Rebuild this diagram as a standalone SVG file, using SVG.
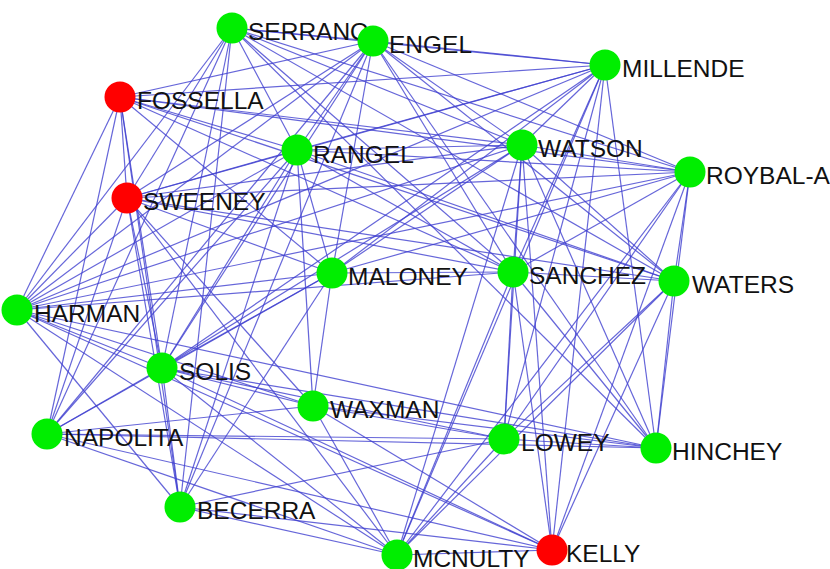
<svg xmlns="http://www.w3.org/2000/svg" width="830" height="569" viewBox="0 0 830 569">
<style>
.e line{stroke:#4040d0;stroke-opacity:0.8;stroke-width:1.2;fill:none}
.g{fill:#00ee00}
.r{fill:#ff0000}
text{font-family:"Liberation Sans",Arial,sans-serif;font-size:24.5px;fill:#111}
</style>
<rect width="830" height="569" fill="#fff"/>
<g id="edges" class="e">
<line x1="232" y1="28" x2="373" y2="41"/>
<line x1="232" y1="28" x2="605" y2="65"/>
<line x1="232" y1="28" x2="17" y2="310"/>
<line x1="232" y1="28" x2="127" y2="198"/>
<line x1="232" y1="28" x2="47" y2="434"/>
<line x1="232" y1="28" x2="162" y2="368"/>
<line x1="232" y1="28" x2="180" y2="507"/>
<line x1="232" y1="28" x2="297" y2="150"/>
<line x1="232" y1="28" x2="522" y2="145"/>
<line x1="232" y1="28" x2="513" y2="272"/>
<line x1="232" y1="28" x2="690" y2="172"/>
<line x1="232" y1="28" x2="674" y2="281"/>
<line x1="232" y1="28" x2="656" y2="448"/>
<line x1="373" y1="41" x2="605" y2="65"/>
<line x1="373" y1="41" x2="120" y2="97"/>
<line x1="373" y1="41" x2="297" y2="150"/>
<line x1="373" y1="41" x2="522" y2="145"/>
<line x1="373" y1="41" x2="690" y2="172"/>
<line x1="373" y1="41" x2="127" y2="198"/>
<line x1="373" y1="41" x2="17" y2="310"/>
<line x1="373" y1="41" x2="162" y2="368"/>
<line x1="373" y1="41" x2="47" y2="434"/>
<line x1="373" y1="41" x2="180" y2="507"/>
<line x1="373" y1="41" x2="332" y2="273"/>
<line x1="373" y1="41" x2="513" y2="272"/>
<line x1="373" y1="41" x2="674" y2="281"/>
<line x1="373" y1="41" x2="656" y2="448"/>
<line x1="605" y1="65" x2="120" y2="97"/>
<line x1="605" y1="65" x2="297" y2="150"/>
<line x1="605" y1="65" x2="127" y2="198"/>
<line x1="605" y1="65" x2="17" y2="310"/>
<line x1="605" y1="65" x2="162" y2="368"/>
<line x1="605" y1="65" x2="522" y2="145"/>
<line x1="605" y1="65" x2="513" y2="272"/>
<line x1="605" y1="65" x2="504" y2="439"/>
<line x1="605" y1="65" x2="552" y2="550"/>
<line x1="605" y1="65" x2="656" y2="448"/>
<line x1="605" y1="65" x2="397" y2="555"/>
<line x1="605" y1="65" x2="332" y2="273"/>
<line x1="297" y1="150" x2="120" y2="97"/>
<line x1="297" y1="150" x2="127" y2="198"/>
<line x1="297" y1="150" x2="17" y2="310"/>
<line x1="297" y1="150" x2="162" y2="368"/>
<line x1="297" y1="150" x2="47" y2="434"/>
<line x1="297" y1="150" x2="180" y2="507"/>
<line x1="297" y1="150" x2="522" y2="145"/>
<line x1="297" y1="150" x2="690" y2="172"/>
<line x1="297" y1="150" x2="513" y2="272"/>
<line x1="297" y1="150" x2="674" y2="281"/>
<line x1="297" y1="150" x2="332" y2="273"/>
<line x1="297" y1="150" x2="313" y2="406"/>
<line x1="522" y1="145" x2="120" y2="97"/>
<line x1="522" y1="145" x2="127" y2="198"/>
<line x1="522" y1="145" x2="17" y2="310"/>
<line x1="522" y1="145" x2="690" y2="172"/>
<line x1="522" y1="145" x2="513" y2="272"/>
<line x1="522" y1="145" x2="674" y2="281"/>
<line x1="522" y1="145" x2="504" y2="439"/>
<line x1="522" y1="145" x2="656" y2="448"/>
<line x1="522" y1="145" x2="552" y2="550"/>
<line x1="522" y1="145" x2="397" y2="555"/>
<line x1="522" y1="145" x2="332" y2="273"/>
<line x1="522" y1="145" x2="162" y2="368"/>
<line x1="690" y1="172" x2="120" y2="97"/>
<line x1="690" y1="172" x2="127" y2="198"/>
<line x1="690" y1="172" x2="513" y2="272"/>
<line x1="690" y1="172" x2="332" y2="273"/>
<line x1="690" y1="172" x2="674" y2="281"/>
<line x1="690" y1="172" x2="504" y2="439"/>
<line x1="690" y1="172" x2="656" y2="448"/>
<line x1="690" y1="172" x2="552" y2="550"/>
<line x1="690" y1="172" x2="397" y2="555"/>
<line x1="690" y1="172" x2="17" y2="310"/>
<line x1="127" y1="198" x2="120" y2="97"/>
<line x1="127" y1="198" x2="17" y2="310"/>
<line x1="127" y1="198" x2="47" y2="434"/>
<line x1="127" y1="198" x2="162" y2="368"/>
<line x1="127" y1="198" x2="180" y2="507"/>
<line x1="127" y1="198" x2="332" y2="273"/>
<line x1="127" y1="198" x2="513" y2="272"/>
<line x1="127" y1="198" x2="674" y2="281"/>
<line x1="127" y1="198" x2="313" y2="406"/>
<line x1="127" y1="198" x2="397" y2="555"/>
<line x1="120" y1="97" x2="17" y2="310"/>
<line x1="120" y1="97" x2="47" y2="434"/>
<line x1="120" y1="97" x2="162" y2="368"/>
<line x1="120" y1="97" x2="180" y2="507"/>
<line x1="120" y1="97" x2="513" y2="272"/>
<line x1="120" y1="97" x2="674" y2="281"/>
<line x1="120" y1="97" x2="332" y2="273"/>
<line x1="332" y1="273" x2="513" y2="272"/>
<line x1="332" y1="273" x2="313" y2="406"/>
<line x1="332" y1="273" x2="17" y2="310"/>
<line x1="332" y1="273" x2="47" y2="434"/>
<line x1="332" y1="273" x2="162" y2="368"/>
<line x1="332" y1="273" x2="180" y2="507"/>
<line x1="513" y1="272" x2="674" y2="281"/>
<line x1="513" y1="272" x2="504" y2="439"/>
<line x1="513" y1="272" x2="552" y2="550"/>
<line x1="513" y1="272" x2="397" y2="555"/>
<line x1="513" y1="272" x2="656" y2="448"/>
<line x1="513" y1="272" x2="17" y2="310"/>
<line x1="674" y1="281" x2="656" y2="448"/>
<line x1="674" y1="281" x2="504" y2="439"/>
<line x1="674" y1="281" x2="552" y2="550"/>
<line x1="674" y1="281" x2="397" y2="555"/>
<line x1="17" y1="310" x2="162" y2="368"/>
<line x1="17" y1="310" x2="313" y2="406"/>
<line x1="17" y1="310" x2="656" y2="448"/>
<line x1="17" y1="310" x2="180" y2="507"/>
<line x1="17" y1="310" x2="397" y2="555"/>
<line x1="17" y1="310" x2="552" y2="550"/>
<line x1="162" y1="368" x2="47" y2="434"/>
<line x1="162" y1="368" x2="180" y2="507"/>
<line x1="162" y1="368" x2="313" y2="406"/>
<line x1="162" y1="368" x2="504" y2="439"/>
<line x1="162" y1="368" x2="656" y2="448"/>
<line x1="162" y1="368" x2="552" y2="550"/>
<line x1="162" y1="368" x2="397" y2="555"/>
<line x1="313" y1="406" x2="47" y2="434"/>
<line x1="313" y1="406" x2="504" y2="439"/>
<line x1="313" y1="406" x2="656" y2="448"/>
<line x1="313" y1="406" x2="397" y2="555"/>
<line x1="313" y1="406" x2="552" y2="550"/>
<line x1="47" y1="434" x2="504" y2="439"/>
<line x1="47" y1="434" x2="656" y2="448"/>
<line x1="47" y1="434" x2="397" y2="555"/>
<line x1="47" y1="434" x2="552" y2="550"/>
<line x1="180" y1="507" x2="397" y2="555"/>
<line x1="180" y1="507" x2="552" y2="550"/>
<line x1="180" y1="507" x2="504" y2="439"/>
<line x1="504" y1="439" x2="656" y2="448"/>
<line x1="504" y1="439" x2="397" y2="555"/>
<line x1="397" y1="555" x2="552" y2="550"/>
</g>
<g id="serrano"><circle class="g" cx="232" cy="28" r="15.5"/><text x="248" y="40">SERRANO</text></g>
<g id="engel"><circle class="g" cx="373" cy="41" r="15.5"/><text x="389" y="53">ENGEL</text></g>
<g id="millende"><circle class="g" cx="605" cy="65" r="15.5"/><text x="622" y="77">MILLENDE</text></g>
<g id="fossella"><circle class="r" cx="120" cy="97" r="15.5"/><text x="137" y="109">FOSSELLA</text></g>
<g id="rangel"><circle class="g" cx="297" cy="150" r="15.5"/><text x="313" y="163">RANGEL</text></g>
<g id="watson"><circle class="g" cx="522" cy="145" r="15.5"/><text x="538" y="157">WATSON</text></g>
<g id="roybal"><circle class="g" cx="690" cy="172" r="15.5"/><text x="706" y="184">ROYBAL-A</text></g>
<g id="sweeney"><circle class="r" cx="127" cy="198" r="15.5"/><text x="143" y="210">SWEENEY</text></g>
<g id="maloney"><circle class="g" cx="332" cy="273" r="15.5"/><text x="348" y="285">MALONEY</text></g>
<g id="sanchez"><circle class="g" cx="513" cy="272" r="15.5"/><text x="529" y="284">SANCHEZ</text></g>
<g id="waters"><circle class="g" cx="674" cy="281" r="15.5"/><text x="692" y="293">WATERS</text></g>
<g id="harman"><circle class="g" cx="17" cy="310" r="15.5"/><text x="34" y="322">HARMAN</text></g>
<g id="solis"><circle class="g" cx="162" cy="368" r="15.5"/><text x="179" y="380">SOLIS</text></g>
<g id="waxman"><circle class="g" cx="313" cy="406" r="15.5"/><text x="330" y="418">WAXMAN</text></g>
<g id="napolita"><circle class="g" cx="47" cy="434" r="15.5"/><text x="64" y="446">NAPOLITA</text></g>
<g id="lowey"><circle class="g" cx="504" cy="439" r="15.5"/><text x="521" y="451">LOWEY</text></g>
<g id="hinchey"><circle class="g" cx="656" cy="448" r="15.5"/><text x="672" y="460">HINCHEY</text></g>
<g id="becerra"><circle class="g" cx="180" cy="507" r="15.5"/><text x="197" y="519">BECERRA</text></g>
<g id="mcnulty"><circle class="g" cx="397" cy="555" r="15.5"/><text x="413" y="567">MCNULTY</text></g>
<g id="kelly"><circle class="r" cx="552" cy="550" r="15.5"/><text x="566" y="562">KELLY</text></g>
</svg>
